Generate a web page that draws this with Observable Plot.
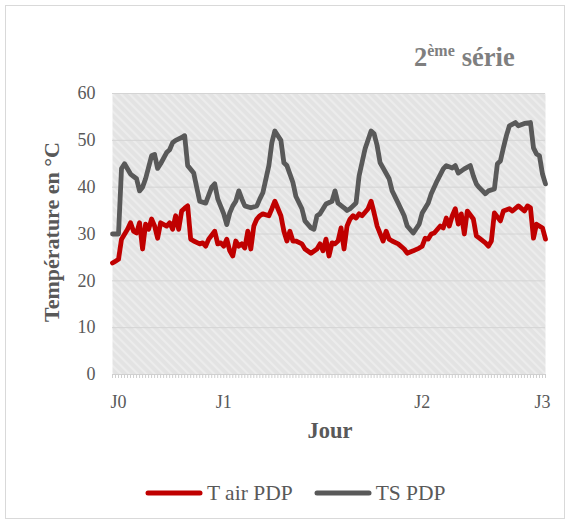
<!DOCTYPE html>
<html><head><meta charset="utf-8">
<script src="https://cdn.jsdelivr.net/npm/d3@7"></script>
<script src="https://cdn.jsdelivr.net/npm/@observablehq/plot@0.6"></script>
<style>
body{margin:0;background:#fff;}
#wrap{position:relative;width:571px;height:525px;font-family:"Liberation Serif","Times New Roman",serif;color:#595959;overflow:hidden;}
#border{position:absolute;left:5px;top:5px;width:560px;height:514px;border:1px solid #d9d9d9;box-sizing:border-box;}
#chart{position:absolute;left:0;top:0;}
.t{position:absolute;white-space:nowrap;}
#title{left:414px;top:42px;font-size:26.5px;font-weight:bold;color:#7f7f7f;line-height:30px;}
#title sup{font-size:16px;vertical-align:0;position:relative;top:-10px;margin-right:7px;}
#ylab{left:-98px;top:220px;width:300px;text-align:center;font-size:22px;font-weight:bold;transform:rotate(-90deg);line-height:24px;}
#xlab{left:230px;width:200px;top:419px;text-align:center;font-size:22.5px;font-weight:bold;line-height:24px;}
#legend{left:145px;top:481px;display:flex;align-items:center;font-size:21.5px;line-height:24px;}
.item{display:flex;align-items:center;margin-right:21px;}
.item svg{margin-right:4px;}
</style></head>
<body><div id="wrap">
<div id="border"></div>
<div id="chart"></div>
<div class="t" id="title">2<sup>ème</sup>série</div>
<div class="t" id="ylab">Température en °C</div>
<div class="t" id="xlab">Jour</div>
<div class="t" id="legend"></div>
</div>
<script>
// Series names / colours
const seriesNames = ["T air PDP", "TS PDP"];
const seriesColors = ["#c00000", "#595959"];

// Day axis labels and their category positions
const dayLabels = ["J0", "J1", "J2", "J3"];
const dayTicks = [2, 37, 103, 143];
const categories = d3.range(0, 145);
const yTicks = [0, 10, 20, 30, 40, 50, 60];

// TS PDP (sample index, value)
const tsIdx = [0,2,3,4,6,8,9,10,11,13,14,15,16,18,19,20,21,23,24,25,27,28,29,31,33,34,35,37,38,39,40,41,42,43,44,46,48,49,50,52,53,54,56,57,58,60,61,63,64,66,67,68,69,71,73,74,75,77,78,79,81,82,84,86,87,88,89,90,92,93,95,97,98,100,102,103,105,106,108,110,111,113,114,115,117,119,120,121,122,124,125,127,128,129,130,131,132,134,135,137,139,140,141,142,143,144];
const tsVal = [30,30,44,45,42.8,41.8,39.2,40,41.8,46.7,47,44,45,47.4,48,49.5,50,50.6,51,44.6,43,40,37,36.6,40,40.7,37.5,34.3,32,34.5,36,37,39.2,37.5,36,35.6,36,37.5,38.8,44.6,49.5,52,50,45.2,44.6,41,38,35.4,32.8,31.3,31,33.9,34.3,36.4,37,39.2,36.6,35.6,35,35.4,36.6,42.4,48.2,52,51.4,48.9,45.2,44.1,41.8,39.2,36.6,33.9,31.7,30.2,32.1,34.5,36.6,38.6,41.4,43.9,44.6,44.1,44.6,43,43.9,44.6,42.4,40.7,39.9,38.6,39.2,39.6,45,45.6,48.4,51,53.1,53.8,53.1,53.6,53.8,48.4,47.1,46.7,42.8,40.7];

// T air PDP (sample index, value)
const airIdx = [0,1,2,3,5,6,7,8,9,10,11,12,13,14,15,16,18,19,20,21,22,23,24,25,26,27,29,30,31,32,34,35,36,37,38,39,40,41,42,43,44,45,46,47,48,49,50,52,53,54,56,57,58,59,60,61,63,64,66,68,69,70,71,72,73,74,75,76,77,78,79,80,81,82,83,85,86,87,88,90,91,92,93,95,97,98,100,102,103,104,105,106,107,109,110,111,112,113,114,115,116,117,118,120,121,122,124,125,126,127,129,130,132,133,135,137,138,139,140,141,143,144];
const airVal = [23.8,24.2,24.6,28.9,31,32.4,30.6,30.2,32.4,26.8,32.1,31,33.2,31.7,29.1,32.4,31.7,32.4,31,33.9,31,34.9,35.5,36,28.9,28.5,27.9,28.1,27.4,28.9,30.6,27.9,28.1,27.4,28.9,26.4,25.3,28.5,27.4,27.9,27,30.6,26.8,31.7,33.2,33.9,34.3,33.9,35.4,37,33.9,30.6,28.5,30.6,28.5,28.5,27.9,26.8,25.9,26.8,27.9,26.4,28.9,25.3,28.1,27.9,28.5,31.3,26.8,31.7,33.2,33.9,33.4,34.3,33.9,35.4,37,34.5,31.7,28.5,30.6,28.9,28.5,27.9,26.8,25.9,26.4,27,27.4,29.1,28.9,30,30.2,31.7,31.3,33.4,31.7,33.9,35.4,32.1,34.3,30,34.9,33.2,29.6,29.1,28.1,27.4,28.5,34.5,32.8,34.9,35.4,34.9,36,34.9,36,35.6,29.1,32.1,31.3,28.9];

const rows = [
  ...airIdx.map((x, i) => ({series: seriesNames[0], x, y: airVal[i]})),
  ...tsIdx.map((x, i) => ({series: seriesNames[1], x, y: tsVal[i]}))
];

const plot = Plot.plot({
  width: 571, height: 460,
  marginLeft: 112, marginRight: 26, marginTop: 93, marginBottom: 86,
  style: {fontFamily: "Liberation Serif, Times New Roman, serif", fontSize: "18px", color: "#595959", background: "transparent"},
  x: {domain: [0, 144]},
  y: {domain: [0, 60]},
  color: {domain: seriesNames, range: seriesColors},
  marks: [
    Plot.frame({fill: "url(#hatch)", stroke: "none"}),
    Plot.ruleY(yTicks.filter(d => d > 0), {stroke: "#d4d4d4", strokeWidth: 1}),
    Plot.ruleY([0], {stroke: "#d0d0d0"}),
    Plot.axisX({ticks: categories, tickFormat: () => "", tickSize: 4, stroke: "#cfcfcf", strokeOpacity: 1, label: null}),
    Plot.axisX({ticks: dayTicks, tickFormat: (d) => dayLabels[dayTicks.indexOf(d)], tickSize: 0, tickPadding: 21, label: null, fontSize: 18}),
    Plot.axisY({ticks: yTicks, tickSize: 0, tickPadding: 17, label: null, fontSize: 18}),
    Plot.line(rows, {x: "x", y: "y", z: "series", stroke: "series", strokeWidth: 4.8, strokeLinejoin: "round", strokeLinecap: "round"})
  ]
});

// hatch pattern for the plot area
const ns = "http://www.w3.org/2000/svg";
const defs = document.createElementNS(ns, "defs");
defs.innerHTML = '<pattern id="hatch" width="6" height="6" patternUnits="userSpaceOnUse" patternTransform="rotate(-45)">' +
  '<rect width="6" height="6" fill="#e3e3e3"></rect><rect width="2.2" height="6" fill="#ececec"></rect></pattern>';
plot.insertBefore(defs, plot.firstChild);
document.getElementById("chart").appendChild(plot);

// legend
const leg = document.getElementById("legend");
seriesNames.forEach((name, i) => {
  const it = document.createElement("div");
  it.className = "item";
  it.innerHTML = `<svg width="58" height="10"><line x1="3" y1="5" x2="55" y2="5" stroke="${seriesColors[i]}" stroke-width="5" stroke-linecap="round"/></svg><span>${name}</span>`;
  leg.appendChild(it);
});
</script>
</body></html>
